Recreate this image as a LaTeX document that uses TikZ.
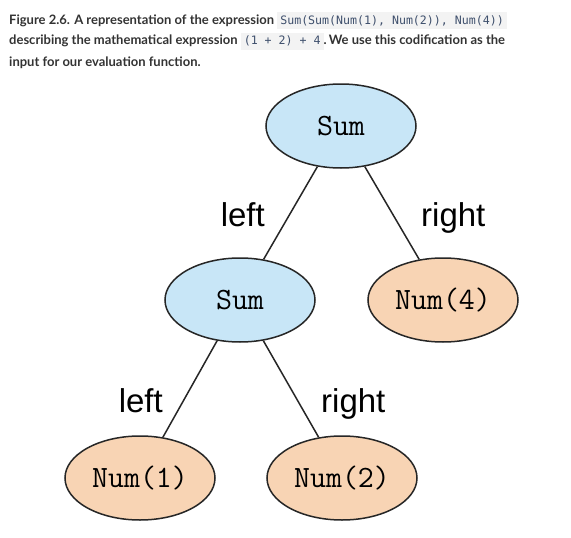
\documentclass[tikz,border=0pt]{standalone}
\usepackage{fontspec}
\usetikzlibrary{shapes.geometric}
\setmainfont{Liberation Sans}
\newfontfamily\capfont{Lato}
\newfontfamily\codefont{DejaVu Sans Mono}
\definecolor{sumblue}{HTML}{C8E6F7}
\definecolor{numorange}{HTML}{F8D4B4}
\definecolor{codebg}{HTML}{F3F3F3}
\definecolor{codefg}{HTML}{3E4F6C}
\definecolor{capgray}{HTML}{333333}
\newcommand\code[1]{{\setlength\fboxsep{3pt}\colorbox{codebg}{\codefont\mdseries\fontsize{11.6}{14}\selectfont\color{codefg}#1}}}

\begin{document}
\begin{tikzpicture}[x=1pt,y=-1pt,
  tree/.style={ellipse,draw=black!85,line width=1.5pt,minimum width=150pt,minimum height=84pt,font=\fontsize{31}{31}\ttfamily},
  lbl/.style={font=\fontsize{33}{33}\selectfont,inner sep=0pt},
  captext/.style={anchor=base west,inner sep=0pt,text=capgray,font=\fontsize{13}{21}\capfont\bfseries}]
\fill[white] (0,0) rectangle (571,538);
\useasboundingbox (0,0) rectangle (571,538);

\node[captext] (cap1) at (9,24) {Figure 2.6. A representation of the expression \code{Sum(Sum(Num(1), Num(2)), Num(4))}};
\node[captext] (cap2) at (9,45) {describing the mathematical expression \code{(1 + 2) + 4}.\,We use this codification as the};
\node[captext] (cap3) at (9,66) {input for our evaluation function.};

\foreach \n/\x/\y/\v/\c in {r/341/126/Sum/sumblue,s/240/300/Sum/sumblue,d/443/300/Num(4)/numorange,
  a/140/478/Num(1)/numorange,b/342/478/Num(2)/numorange}
\node[tree,fill=\c] (\n) at (\x,\y) {\v};

\foreach \u/\w in {r/s,r/d,s/a,s/b}
\draw[line width=1.5pt,black!85] (\u) -- (\w);

\node[lbl,anchor=base east] (l1) at (265,226) {left};
\node[lbl,anchor=base west] (r1) at (421,226) {right};
\node[lbl,anchor=base east] (l2) at (163,412) {left};
\node[lbl,anchor=base west] (r2) at (321,412) {right};
\end{tikzpicture}
\end{document}
